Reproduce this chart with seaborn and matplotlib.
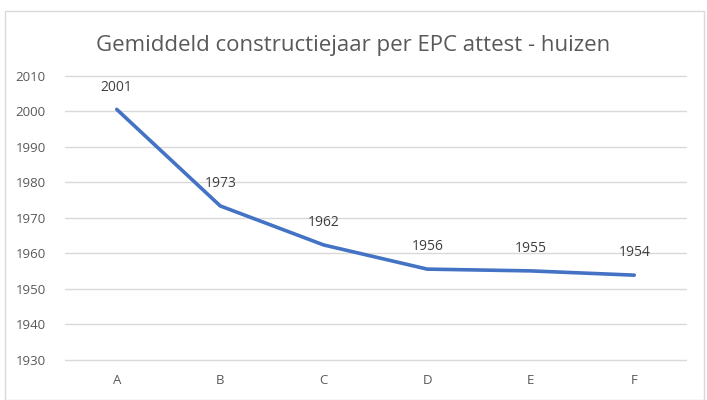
import matplotlib
matplotlib.use("Agg")
import matplotlib.pyplot as plt
import pandas as pd
import seaborn as sns
from matplotlib.patches import Rectangle

labels = ['A', 'B', 'C', 'D', 'E', 'F']
jaar = [2000.6, 1973.4, 1962.4, 1955.6, 1955.1, 1953.9]
yticks = [1930, 1940, 1950, 1960, 1970, 1980, 1990, 2000, 2010]

df = pd.DataFrame({'epc': labels, 'jaar': jaar})

sns.set_style("white")
plt.rcParams['font.family'] = ['Open Sans', 'DejaVu Sans']

fig = plt.figure(figsize=(7.07, 4.0), dpi=100)
# chart border like excel
fig.patches.append(Rectangle((5 / 707, 0.0), 699 / 707, 389 / 400, transform=fig.transFigure,
                             fill=False, edgecolor='#D9D9D9', linewidth=1))
ax = fig.add_axes([65 / 707, 0.1, 621 / 707, 0.71])

sns.lineplot(data=df, x='epc', y='jaar', ax=ax, sort=False, color='#4472C4', linewidth=2.6)

for i, v in enumerate(jaar):
    ax.annotate(str(round(v)), (i, v), xytext=(0, 16), textcoords='offset points',
                ha='center', va='center', fontsize=10, color='#404040')

ax.set_ylim(1930, 2010)
ax.set_xlim(-0.5, 5.5)
ax.set_yticks(yticks)
ax.yaxis.grid(True, color='#D9D9D9', linewidth=1)
for gl in ax.get_ygridlines():
    gl.set_clip_on(False)
ax.set_axisbelow(True)
for s in ax.spines.values():
    s.set_visible(False)
ax.tick_params(axis='both', length=0, labelsize=9.5, colors='#595959')
ax.tick_params(axis='x', pad=10)
ax.tick_params(axis='y', pad=14)
ax.set_xlabel('')
ax.set_ylabel('')

fig.text(0.5, 1 - 45 / 400, 'Gemiddeld constructiejaar per EPC attest - huizen',
         ha='center', va='center', fontsize=16, color='#595959')

fig.savefig('out.png', dpi=100)
